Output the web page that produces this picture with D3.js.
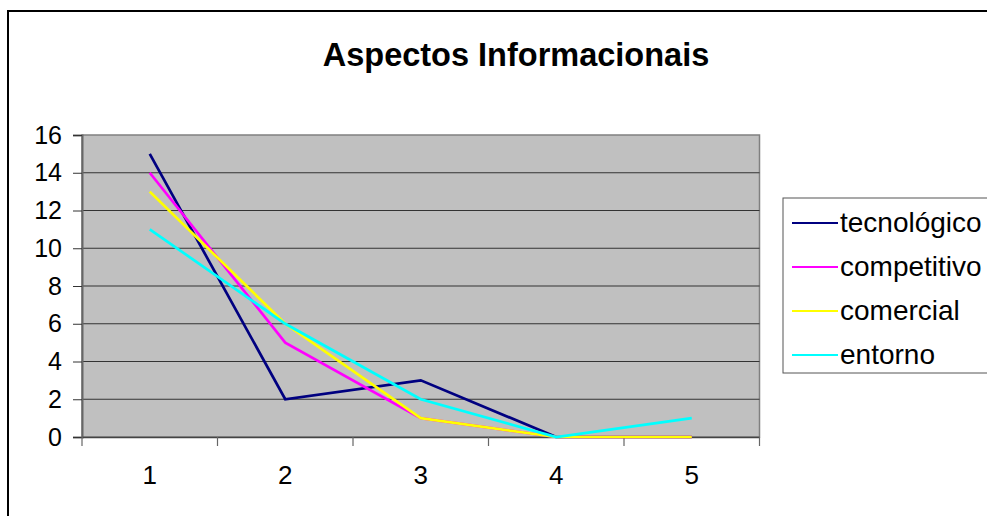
<!DOCTYPE html>
<html><head><meta charset="utf-8">
<script src="https://cdn.jsdelivr.net/npm/d3@7"></script>
<style>
html,body{margin:0;padding:0;background:#fff;}
svg{display:block;font-family:"Liberation Sans",Arial,sans-serif;}
</style></head>
<body>
<script>
const title = "Aspectos Informacionais";
const categories = ["1","2","3","4","5"];
const yTicks = [0,2,4,6,8,10,12,14,16];
const seriesNames = ["tecnológico","competitivo","comercial","entorno"];
const seriesColors = ["#000080","#ff00ff","#ffff00","#00ffff"];
const tecnologico = [15,2,3,0,0];
const competitivo = [14,5,1,0,0];
const comercial   = [13,6,1,0,0];
const entorno     = [11,6,2,0,1];
const seriesValues = [tecnologico,competitivo,comercial,entorno];

const W=987,H=516;
const svg=d3.select("body").append("svg").attr("width",W).attr("height",H);

// outer frame (extends beyond the viewport on right/bottom)
svg.append("rect").attr("x",8).attr("y",11).attr("width",1100).attr("height",700)
  .attr("fill","#fff").attr("stroke","#000").attr("stroke-width",2);

const pL=82,pR=759.5,pT=135,pB=437;
const x=d3.scaleBand().domain(categories).range([pL,pR]).padding(0);
const y=d3.scaleLinear().domain([0,16]).range([pB,pT]);

// title
svg.append("text").attr("x",516).attr("y",66).attr("text-anchor","middle")
  .attr("font-size",32.5).attr("font-weight","bold").text(title);

// plot area
svg.append("rect").attr("x",pL).attr("y",pT).attr("width",pR-pL).attr("height",pB-pT)
  .attr("fill","#c0c0c0").attr("stroke","#808080").attr("stroke-width",1.5);

// gridlines
svg.append("g").selectAll("line").data(yTicks.filter(d=>d>0&&d<16)).join("line")
  .attr("x1",pL).attr("x2",pR).attr("y1",d=>y(d)).attr("y2",d=>y(d))
  .attr("stroke","#333").attr("stroke-width",1);

// left axis
const ya=svg.append("g").attr("transform",`translate(${pL},0)`)
  .call(d3.axisLeft(y).tickValues(yTicks).tickSize(9).tickPadding(11));
ya.select(".domain").attr("stroke","#666").attr("stroke-width",2);
ya.selectAll(".tick line").attr("stroke","#333");
ya.selectAll("text").attr("font-size",25).attr("fill","#000")
  .attr("font-family","Liberation Sans, Arial, sans-serif");

// bottom axis: labels at centers
const xa=svg.append("g").attr("transform",`translate(0,${pB})`)
  .call(d3.axisBottom(x).tickSize(0).tickPadding(29));
xa.select(".domain").attr("stroke","#444").attr("stroke-width",1.5);
xa.selectAll("text").attr("font-size",26).attr("fill","#000")
  .attr("font-family","Liberation Sans, Arial, sans-serif");
// boundary ticks
const bounds=categories.map(c=>x(c)).concat([pR]);
svg.append("g").selectAll("line").data(bounds).join("line")
  .attr("x1",d=>d).attr("x2",d=>d).attr("y1",pB).attr("y2",pB+9)
  .attr("stroke","#666").attr("stroke-width",1.2);

// lines
const line=d3.line().x((d,i)=>x(categories[i])+x.bandwidth()/2).y(d=>y(d));
svg.append("g").selectAll("path").data(seriesValues).join("path")
  .attr("d",d=>line(d)).attr("fill","none")
  .attr("stroke",(d,i)=>seriesColors[i]).attr("stroke-width",2.7)
  .attr("stroke-linejoin","miter");

// legend
svg.append("rect").attr("x",783).attr("y",198).attr("width",300).attr("height",175)
  .attr("fill","#fff").attr("stroke","#555").attr("stroke-width",1);
const lg=svg.append("g").selectAll("g").data(seriesNames).join("g")
  .attr("transform",(d,i)=>`translate(0,${223+i*44})`);
lg.append("line").attr("x1",792).attr("x2",838).attr("y1",0).attr("y2",0)
  .attr("stroke",(d,i)=>seriesColors[i]).attr("stroke-width",2);
lg.append("text").attr("x",840).attr("y",9).attr("font-size",28).text(d=>d);
</script>
</body></html>
